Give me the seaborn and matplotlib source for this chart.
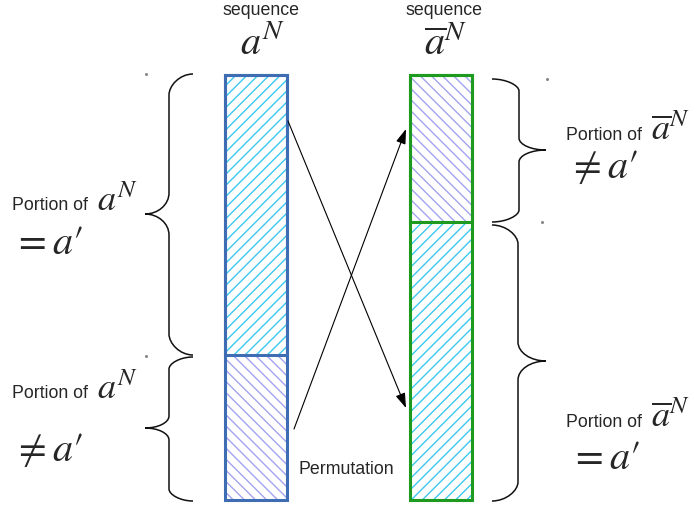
import matplotlib
matplotlib.use("Agg")
import matplotlib.pyplot as plt
from matplotlib.path import Path
from matplotlib.patches import PathPatch
import seaborn as sns

# the two sequences and how much of each equals a'
sequences = [r"$a^N$", r"$\overline{a}^N$"]
share_equal = [0.659, 0.654]
equal_on_top = [True, False]
seq_names = ["a", "abar"]

EQ_HATCH = "#3cc8f0"
NEQ_HATCH = "#a3a3f0"
edge_colors = ["#3f6db3", "#1e9a1e"]

W, H = 695, 510
# bar layout in pixels
bar_cx = [256, 441.5]
bar_w = 62
bar_top, bar_bot = 76, 501

sns.set_style("white")
plt.rcParams["font.family"] = ["Liberation Sans", "DejaVu Sans"]
plt.rcParams["mathtext.fontset"] = "stix"
plt.rcParams["hatch.linewidth"] = 1.0

fig = plt.figure(figsize=(W / 100, H / 100), dpi=100)
ax = fig.add_axes([0, 0, 1, 1])

top_share = [s if t else 1 - s for s, t in zip(share_equal, equal_on_top)]
top_hatch = [EQ_HATCH if t else NEQ_HATCH for t in equal_on_top]
bot_hatch = [NEQ_HATCH if t else EQ_HATCH for t in equal_on_top]
top_pat = ["///" if t else "\\\\\\" for t in equal_on_top]
bot_pat = ["\\\\\\" if t else "///" for t in equal_on_top]

unit = bar_cx[1] - bar_cx[0]
width = bar_w / unit


def bars(values):
    n0 = len(ax.patches)
    sns.barplot(x=seq_names, y=values, ax=ax, width=width, errorbar=None)
    return ax.patches[n0:]


# hatched fills: whole bar first, then the upper portion on top of it
for p, hc, hp in zip(bars([1, 1]), bot_hatch, bot_pat):
    p.set_facecolor("white")
    p.set_edgecolor(hc)
    p.set_linewidth(0)
    p.set_hatch(hp)
for p, hc, hp in zip(bars(top_share), top_hatch, top_pat):
    p.set_facecolor("white")
    p.set_edgecolor(hc)
    p.set_linewidth(0)
    p.set_hatch(hp)
# outlines
for vals in ([1, 1], top_share):
    for p, ec in zip(bars(vals), edge_colors):
        p.set_facecolor("none")
        p.set_edgecolor(ec)
        p.set_linewidth(2.2)
        p.set_hatch(None)

span = bar_bot - bar_top
ax.set_xlim((0 - bar_cx[0]) / unit, (W - bar_cx[0]) / unit)
ax.set_ylim((H - bar_top) / span, (0 - bar_top) / span)
ax.axis("off")

# overlay in pixel coordinates for braces, arrows and labels
ov = fig.add_axes([0, 0, 1, 1])
ov.set_xlim(0, W)
ov.set_ylim(H, 0)
ov.axis("off")
ov.patch.set_alpha(0)


def brace(x, y0, y1, ym, tip, end, r):
    verts = [
        (end, y0),
        (x + (end - x) * 0.45, y0), (x, y0 + r * 0.55), (x, y0 + r),
        (x, ym - r),
        (x, ym - r * 0.45), (x + (tip - x) * 0.45, ym), (tip, ym),
        (x + (tip - x) * 0.45, ym), (x, ym + r * 0.45), (x, ym + r),
        (x, y1 - r),
        (x, y1 - r * 0.55), (x + (end - x) * 0.45, y1), (end, y1),
    ]
    codes = ([Path.MOVETO] + [Path.CURVE4] * 3 + [Path.LINETO]
             + [Path.CURVE4] * 6 + [Path.LINETO] + [Path.CURVE4] * 3)
    ov.add_patch(PathPatch(Path(verts, codes), fill=False, lw=1.1, ec="#111111"))


brace(169, 75, 356, 215, 145, 193, 21)
brace(169, 358, 502, 429, 145, 193, 12)
brace(519, 80, 223, 151, 546, 492, 12)
brace(518, 226, 502, 362, 546, 492, 19)

for px, py in [(146, 75), (146, 357), (547, 80), (542, 223)]:
    ov.plot(px, py, "o", ms=1.2, color="#888888")

arrow = dict(arrowstyle="-|>,head_length=0.6,head_width=0.2", mutation_scale=15,
             lw=0.8, color="black", shrinkA=0, shrinkB=0)
ov.annotate("", xy=(406, 409), xytext=(288, 122), arrowprops=arrow)
ov.annotate("", xy=(406, 130), xytext=(294, 430), arrowprops=arrow)
ov.text(298, 474, "Permutation", fontsize=12.8, va="baseline")

# column titles
for cx, lab in zip([261, 443.5], sequences):
    ov.text(cx, 15, "sequence", fontsize=12.8, ha="center", va="baseline")
    ov.text(cx + 2, 55, lab, fontsize=29, ha="center", va="baseline")

# side labels
side = [
    (12, 210, sequences[0], 13, 254, r"$=a\prime$"),
    (12, 398, sequences[0], 13, 461, r"$\neq a\prime$"),
    (566, 140, sequences[1], 568, 178, r"$\neq a\prime$"),
    (566, 427, sequences[1], 570, 469, r"$=a\prime$"),
]
for x, y, lab, x2, y2, rel in side:
    ov.text(x, y, "Portion of", fontsize=12.8, va="baseline")
    ov.text(x + 85, y + 1, lab, fontsize=26, va="baseline")
    ov.text(x2, y2, rel, fontsize=29, va="baseline")

fig.savefig("out.png", dpi=100)
